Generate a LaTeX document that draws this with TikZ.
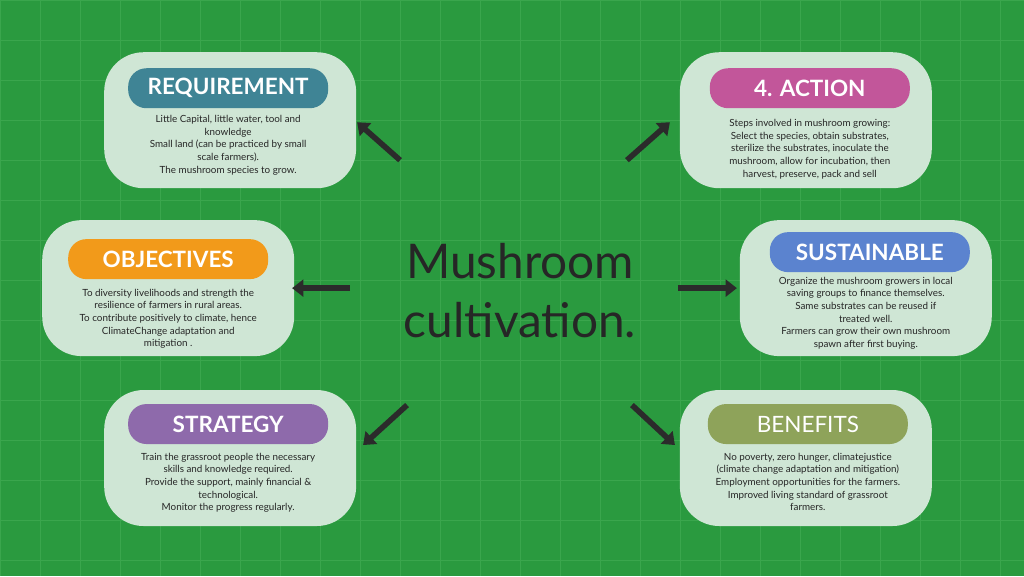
\documentclass[tikz,border=0pt]{standalone}
\usepackage{fontspec}
\setmainfont{Lato}
\usetikzlibrary{arrows.meta}
\definecolor{bggreen}{HTML}{2A9A3F}
\definecolor{gridgreen}{HTML}{3AA64D}
\definecolor{boxfill}{HTML}{CFE6D5}
\definecolor{cteal}{HTML}{3F8495}
\definecolor{cpink}{HTML}{C2569A}
\definecolor{corange}{HTML}{F29A1A}
\definecolor{cblue}{HTML}{5B83CF}
\definecolor{cpurple}{HTML}{8E6AAB}
\definecolor{colive}{HTML}{8EA35A}
\definecolor{darkarrow}{HTML}{2B2B2B}
\tikzset{
  card/.style={fill=boxfill, rounded corners=28pt, inner sep=0pt, minimum width=6.3cm, minimum height=3.4cm},
  pill/.style={rounded corners=13pt, text=white, font=\bfseries\fontsize{16}{18}\selectfont, minimum width=5cm, minimum height=1cm},
  body/.style={align=center, font=\fontsize{7}{9}\selectfont, text=black!85},
  arr/.style={darkarrow, line width=4pt, -{Triangle[length=8pt,width=12pt]}}
}
\begin{document}
\begin{tikzpicture}[x=0.025cm, y=-0.025cm]
	\fill[bggreen] (0,0) rectangle (1024,576);
	\draw[gridgreen, line width=0.4pt] (0,0) grid[step=1cm] (1024,576);
	\useasboundingbox (0,0) rectangle (1024,576);

	\node[card] (req) at (230,120) {};
	\node[card] (act) at (806,120) {};
	\node[card] (obj) at (168,288) {};
	\node[card] (sus) at (866,288) {};
	\node[card] (str) at (230,458) {};
	\node[card] (ben) at (806,458) {};

	\node[pill, fill=cteal] (reqt) at (228,88) {REQUIREMENT};
	\node[pill, fill=cpink] (actt) at (810,88) {4. ACTION};
	\node[pill, fill=corange] (objt) at (168,259) {OBJECTIVES};
	\node[pill, fill=cblue] (sust) at (870,252) {SUSTAINABLE};
	\node[pill, fill=cpurple] (strt) at (228,424) {STRATEGY};
	\node[pill, fill=colive, font=\fontsize{16}{18}\selectfont] (bent) at (808,424) {BENEFITS};

	\node[body, anchor=north] (reqb) at (228,110) {Little Capital, little water, tool and\\knowledge\\Small land (can be practiced by small\\scale farmers).\\The mushroom species to grow.};
	\node[body, anchor=north] (actb) at (810,114) {Steps involved in mushroom growing:\\Select the species, obtain substrates,\\sterilize the substrates, inoculate the\\mushroom, allow for incubation, then\\harvest, preserve, pack and sell};
	\node[body, anchor=north] (objb) at (168,284) {To diversity livelihoods and strength the\\resilience of farmers in rural areas.\\To contribute positively to climate, hence\\ClimateChange adaptation and\\mitigation .};
	\node[body, anchor=north] (susb) at (866,272) {Organize the mushroom growers in local\\saving groups to finance themselves.\\Same substrates can be reused if\\treated well.\\Farmers can grow their own mushroom\\spawn after first buying.};
	\node[body, anchor=north] (strb) at (228,448) {Train the grassroot people the necessary\\skills and knowledge required.\\Provide the support, mainly financial \&\\technological.\\Monitor the progress regularly.};
	\node[body, anchor=north] (benb) at (808,448) {No poverty, zero hunger, climatejustice\\(climate change adaptation and mitigation)\\Employment opportunities for the farmers.\\Improved living standard of grassroot\\farmers.};

	\node[align=center, font=\fontsize{34}{42}\selectfont, text=black!85] (title) at (520,290) {Mushroom\\cultivation.};

	\coordinate (a1) at (400,160); \coordinate (b1) at (357,122);
	\coordinate (a2) at (627,160); \coordinate (b2) at (670,122);
	\coordinate (a3) at (350,288); \coordinate (b3) at (292,288);
	\coordinate (a4) at (678,288); \coordinate (b4) at (737,288);
	\coordinate (a5) at (407,405); \coordinate (b5) at (363,445);
	\coordinate (a6) at (632,405); \coordinate (b6) at (675,445);
	\foreach \i in {1,...,6}
		\draw[arr] (a\i) -- (b\i);
\end{tikzpicture}
\end{document}
